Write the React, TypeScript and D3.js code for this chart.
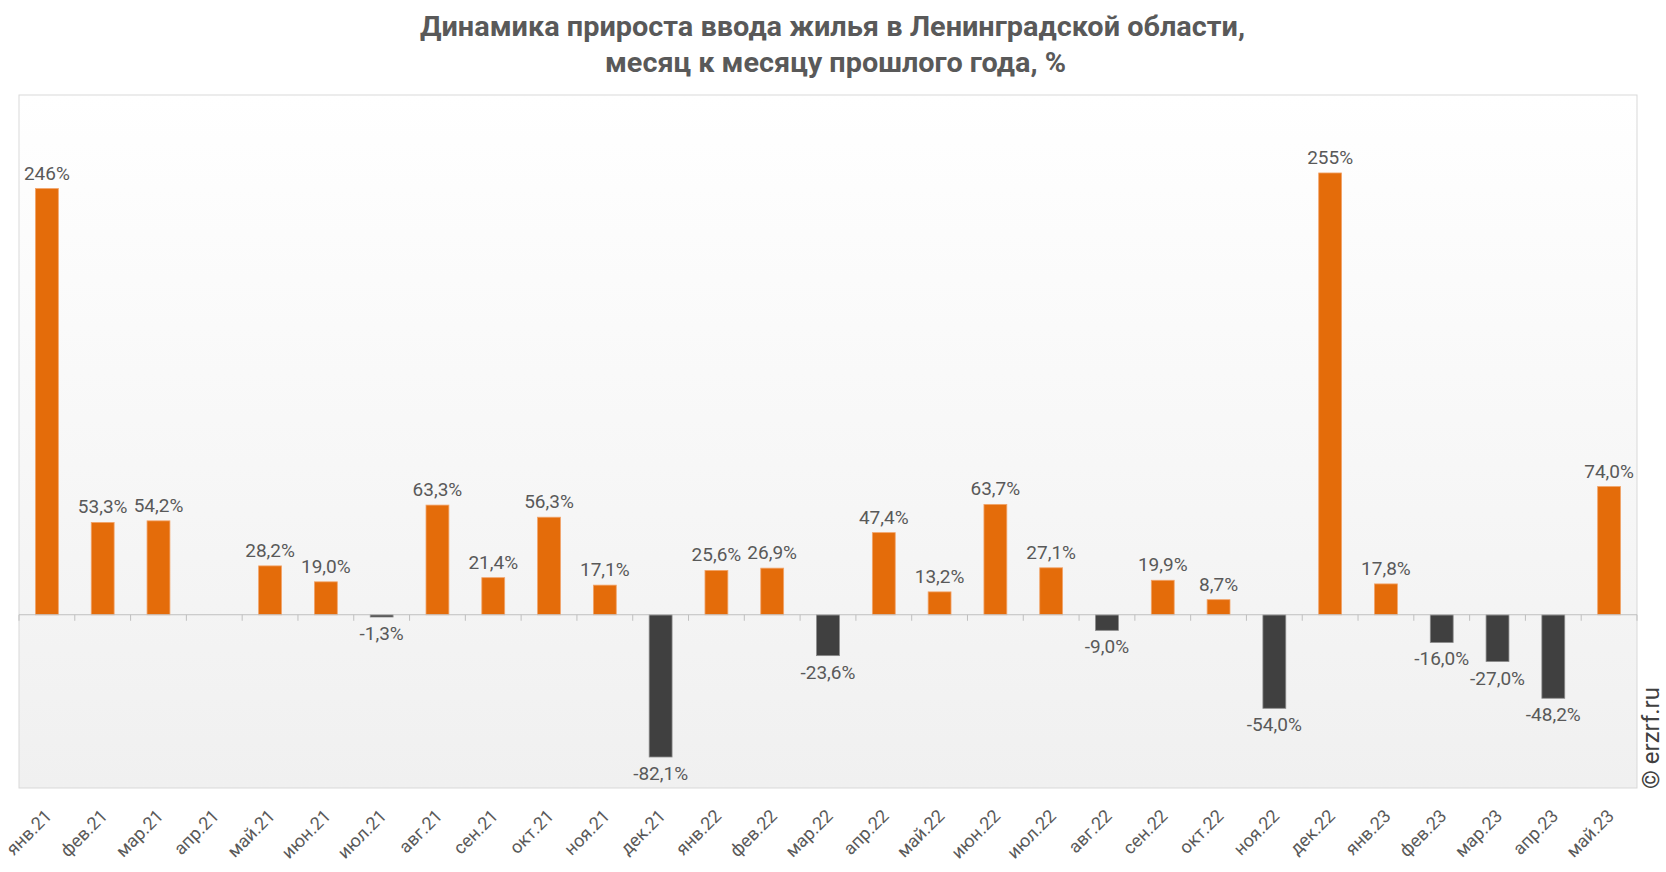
import React from "react";
import * as d3 from "d3";

const months: string[] = [
  "янв.21", "фев.21", "мар.21", "апр.21", "май.21", "июн.21", "июл.21", "авг.21", "сен.21", "окт.21", "ноя.21", "дек.21",
  "янв.22", "фев.22", "мар.22", "апр.22", "май.22", "июн.22", "июл.22", "авг.22", "сен.22", "окт.22", "ноя.22", "дек.22",
  "янв.23", "фев.23", "мар.23", "апр.23", "май.23",
];

const growth: (number | null)[] = [
  246, 53.3, 54.2, null, 28.2, 19.0, -1.3, 63.3, 21.4, 56.3, 17.1, -82.1,
  25.6, 26.9, -23.6, 47.4, 13.2, 63.7, 27.1, -9.0, 19.9, 8.7, -54.0, 255,
  17.8, -16.0, -27.0, -48.2, 74.0,
];

const valueLabels: string[] = [
  "246%", "53,3%", "54,2%", "", "28,2%", "19,0%", "-1,3%", "63,3%", "21,4%", "56,3%", "17,1%", "-82,1%",
  "25,6%", "26,9%", "-23,6%", "47,4%", "13,2%", "63,7%", "27,1%", "-9,0%", "19,9%", "8,7%", "-54,0%", "255%",
  "17,8%", "-16,0%", "-27,0%", "-48,2%", "74,0%",
];

const yDomain: [number, number] = [-100, 300];

const titleLines: string[] = [
  "Динамика прироста ввода жилья в Ленинградской области,",
  "месяц к месяцу прошлого года, %",
];

const W = 1666;
const H = 872;
const plot = { left: 19, right: 1637, top: 95, bottom: 788 };

export default function App() {
  const x = d3
    .scaleBand<string>()
    .domain(months)
    .range([plot.left, plot.right])
    .paddingInner(0.59)
    .paddingOuter(0.295);
  const y = d3.scaleLinear().domain(yDomain).range([plot.bottom, plot.top]);
  const step = x.step();
  const y0 = y(0);
  const ticks = d3.range(months.length + 1).map((i) => plot.left + i * step);
  const font = "Roboto, 'Noto Sans', sans-serif";

  return (
    <svg
      width={W}
      height={H}
      style={{ position: "absolute", left: 0, top: 0, background: "#ffffff" }}
      fontFamily={font}
    >
      <defs>
        <linearGradient id="bg" x1="0" y1="0" x2="0" y2="1">
          <stop offset="0" stopColor="#ffffff" />
          <stop offset="1" stopColor="#f0f0f0" />
        </linearGradient>
      </defs>
      {titleLines.map((t, i) => (
        <text
          key={i}
          x={i === 0 ? 832.5 : 835.5}
          y={36 + i * 36}
          textAnchor="middle"
          fontSize={28}
          fontWeight="bold"
          fill="#595959"
          textLength={i === 0 ? 825 : 461}
          lengthAdjust="spacingAndGlyphs"
        >
          {t}
        </text>
      ))}
      <rect
        x={plot.left}
        y={plot.top}
        width={plot.right - plot.left}
        height={plot.bottom - plot.top}
        fill="url(#bg)"
        stroke="#d9d9d9"
        strokeWidth={1}
      />
      {growth.map((v, i) => {
        if (v === null) return null;
        const bx = x(months[i])!;
        const yy = y(v);
        const pos = v >= 0;
        return (
          <rect
            key={"b" + i}
            x={bx}
            y={pos ? yy : y0}
            width={x.bandwidth()}
            height={Math.abs(yy - y0)}
            fill={pos ? "#e46c0a" : "#404040"}
            stroke={pos ? "#f2a46a" : "#8a8a8a"}
            strokeWidth={0.8}
          />
        );
      })}
      <line x1={plot.left} x2={plot.right} y1={y0} y2={y0} stroke="#bfbfbf" strokeWidth={1.2} />
      {ticks.map((tx, i) => (
        <line key={"t" + i} x1={tx} x2={tx} y1={y0} y2={y0 + 6} stroke="#bfbfbf" strokeWidth={1} />
      ))}
      {growth.map((v, i) => {
        if (v === null || !valueLabels[i]) return null;
        const cx = x(months[i])! + x.bandwidth() / 2;
        const yy = y(v);
        return (
          <text
            key={"l" + i}
            x={cx}
            y={v >= 0 ? yy - 9 : yy + 23}
            textAnchor="middle"
            fontSize={19}
            fill="#595959"
          >
            {valueLabels[i]}
          </text>
        );
      })}
      {months.map((m, i) => {
        const cx = x(m)! + x.bandwidth() / 2;
        return (
          <text
            key={"m" + i}
            transform={`translate(${cx + 6},${plot.bottom + 29}) rotate(-45)`}
            textAnchor="end"
            fontSize={18}
            fill="#595959"
          >
            {m}
          </text>
        );
      })}
      <text
        transform={`translate(1659,789) rotate(-90)`}
        textAnchor="start"
        fontSize={24}
        fill="#404040"
      >
        © erzrf.ru
      </text>
    </svg>
  );
}
